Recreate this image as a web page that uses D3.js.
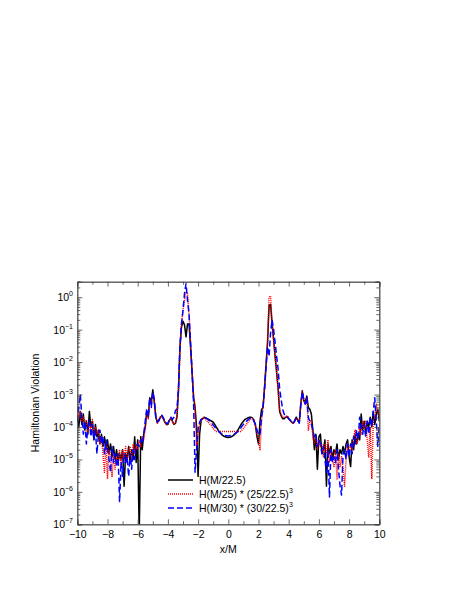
<!DOCTYPE html>
<html><head><meta charset="utf-8">
<script src="https://cdn.jsdelivr.net/npm/d3@7"></script>
<style>
body{margin:0;background:#fff}
text{font-family:"Liberation Sans",Arial,Helvetica,sans-serif;fill:#000}
</style>
</head><body>
<svg id="chart" width="457" height="591"></svg>
<script>
// sample positions x/M (step 0.1 from -10 to 10)
const xValues = d3.range(-100, 101).map(i => i / 10);

// H(M/22.5)
const blackH = [
2e-4,1e-4,3e-4,1.2e-4,2.5e-4,8e-5,1.5e-4,6e-5,3e-4,1e-4,
1.5e-4,4e-5,1.2e-4,5e-5,8e-5,3e-5,6e-5,2.5e-5,5e-5,2e-5,
4e-5,1.5e-5,3e-5,1.2e-5,2.5e-5,1e-5,2e-5,8e-6,1.5e-5,1e-5,
2e-5,1.5e-6,1.5e-5,1e-5,2.5e-5,8e-6,2e-5,1e-5,5e-5,8e-6,
4e-5,5e-8,5e-5,2e-5,6e-5,1e-4,3e-4,2e-4,8e-4,6e-4,
1.4e-3,6e-4,2e-4,1.4e-4,1.6e-4,2e-4,2.2e-4,1.8e-4,1.4e-4,1.2e-4,
1.2e-4,1.6e-4,1.9e-4,1.5e-4,1.2e-4,1.3e-4,2e-4,1.3e-3,3e-2,1.2e-1,
1.8e-1,1.4e-1,6e-2,1.5e-1,1.5e-1,3e-2,5e-3,8e-4,4e-4,1e-4,
3e-6,6e-5,1.6e-4,1.8e-4,2e-4,1.9e-4,1.8e-4,1.7e-4,1.6e-4,1.5e-4,
1.4e-4,1.2e-4,1e-4,8.5e-5,7e-5,6.3e-5,5.6e-5,5.2e-5,5e-5,4.8e-5,
4.7e-5,
4.8e-5,5e-5,5.3e-5,5.8e-5,6.5e-5,7.5e-5,9e-5,1.1e-4,1.3e-4,1.5e-4,
1.7e-4,1.8e-4,1.9e-4,2e-4,2e-4,1.9e-4,1.6e-4,1.1e-4,5e-5,3e-5,
1.5e-4,3.4e-4,4e-4,1.6e-3,8e-3,4e-2,5.5e-1,6e-1,1.5e-1,5e-2,
1.5e-2,5e-3,1.5e-3,3e-4,2.2e-4,1.8e-4,1.8e-4,2e-4,2.1e-4,1.8e-4,
1.6e-4,1.4e-4,1.3e-4,1.6e-4,2e-4,1.6e-4,1.4e-4,5e-4,1.3e-3,6.5e-4,
6e-4,9e-4,4e-4,3.5e-4,2.5e-4,8e-5,2e-5,6e-5,5e-6,5e-5,
6e-5,1.5e-5,2e-5,4e-5,1.5e-6,3e-5,1.5e-5,2.5e-5,1e-5,2e-5,
1.5e-5,3e-5,1e-5,2e-5,1.5e-5,2.5e-5,1.5e-5,3e-5,4e-5,1.2e-5,
6e-6,4e-5,2e-5,6e-5,3e-5,6e-5,4e-5,2.5e-4,8e-5,1.5e-4,
6e-5,1.5e-4,1e-4,2e-4,1e-4,3e-4,1.2e-4,2.5e-4,3.5e-4,1.5e-4
];

// H(M/25) * (25/22.5)^3
const redH = [
4e-4,2e-4,3e-4,1.5e-4,2e-4,1e-4,1.7e-4,7e-5,1.2e-4,8e-5,
1.7e-4,5e-5,1e-4,6e-5,8e-5,3e-5,5e-5,1.5e-5,4e-6,3e-5,
2.5e-6,2e-5,1.2e-5,3e-6,1.5e-5,5e-6,1.2e-5,8e-6,2e-5,6e-6,
2e-5,1e-5,2.5e-5,8e-6,2e-5,2.5e-5,1e-5,3e-5,1.5e-5,3e-5,
2e-5,4e-5,2.5e-5,5e-5,4e-5,9e-5,2.5e-4,1.8e-4,6e-4,5e-4,
1.1e-3,6e-4,2.2e-4,1.3e-4,1.5e-4,2e-4,2.1e-4,1.8e-4,1.4e-4,1.2e-4,
1.2e-4,1.6e-4,1.9e-4,1.5e-4,1.2e-4,1.3e-4,2.2e-4,1.3e-3,3e-2,1.5e-1,
4e-1,8e-1,1.4,1.3,3e-1,4e-2,5e-3,1e-3,4e-4,2.5e-5,
5e-5,1.2e-4,1.7e-4,1.9e-4,2e-4,1.7e-4,1.5e-4,1.35e-4,1.2e-4,1.05e-4,
9e-5,8e-5,7.2e-5,7.2e-5,7.2e-5,7.2e-5,7.2e-5,7.2e-5,7.2e-5,7.2e-5,
7.2e-5,
7.2e-5,7.2e-5,7.2e-5,7.2e-5,7.2e-5,7.2e-5,7.2e-5,7.2e-5,8e-5,9e-5,
1.05e-4,1.2e-4,1.4e-4,1.6e-4,1.8e-4,1.8e-4,1.6e-4,1.1e-4,6e-5,4e-5,
2e-5,1.5e-4,4e-4,1.8e-3,9e-3,4.5e-2,1.0,1.1,1.6e-1,5e-2,
1.5e-2,5e-3,1.5e-3,3.5e-4,2.5e-4,2e-4,1.9e-4,2.1e-4,2.2e-4,1.9e-4,
1.6e-4,1.4e-4,1.3e-4,1.5e-4,1.9e-4,1.6e-4,1.3e-4,4.5e-4,1.2e-3,6e-4,
5e-4,8e-4,8e-5,1.5e-4,1.6e-4,5e-5,3e-5,5e-5,2e-5,4e-5,
2.5e-5,3e-5,1.2e-5,3e-5,1.5e-5,4e-5,8e-6,2e-5,1e-5,6e-6,
2e-5,2.5e-6,1.5e-5,6e-6,1.2e-5,5e-6,1.5e-6,1e-5,3e-5,1.5e-5,
3e-5,2e-5,5e-5,8e-5,3e-5,4e-5,1e-4,6e-5,1.5e-4,9e-5,
1.5e-4,4e-5,1.2e-5,1e-4,2.5e-6,1.5e-4,2e-4,5e-4,3e-4,2e-4
];

// H(M/30) * (30/22.5)^3
const blueH = [
1.5e-4,4e-4,1e-3,2e-4,6e-5,1.5e-4,3e-5,1e-4,1.6e-4,5e-5,
1.2e-4,4e-5,8e-5,1.5e-5,6e-5,8e-5,3e-5,5e-5,1.5e-5,4e-5,
2e-5,1e-5,4e-6,2.5e-5,8e-6,1.5e-5,6e-6,1.5e-5,5e-7,8e-6,
3e-6,1.5e-5,8e-6,1.2e-5,3e-6,1.5e-5,5e-6,2e-5,1e-5,2.5e-5,
3e-5,2.5e-5,4e-5,3e-5,6e-5,1.5e-4,3.7e-4,2e-4,8e-4,4e-4,
1.2e-3,7e-4,2e-4,1.4e-4,1.6e-4,2e-4,2.3e-4,1.9e-4,1.5e-4,1.3e-4,
1.3e-4,1.7e-4,2e-4,1.7e-4,2e-4,3.2e-4,3.6e-4,1.5e-3,3e-2,1.5e-1,
4e-1,1.3,2.6,8e-1,3e-1,4e-2,5e-3,6e-4,4e-6,2e-5,
9e-5,1.4e-4,1.7e-4,1.8e-4,1.9e-4,1.9e-4,1.8e-4,1.6e-4,1.45e-4,1.3e-4,
1.15e-4,1e-4,9e-5,8e-5,7e-5,6.4e-5,6e-5,5.7e-5,5.5e-5,5.4e-5,
5.3e-5,
5.4e-5,5.5e-5,5.7e-5,6e-5,6.4e-5,7e-5,8e-5,9e-5,1.05e-4,1.2e-4,
1.35e-4,1.5e-4,1.65e-4,1.8e-4,1.9e-4,1.8e-4,1.5e-4,1.2e-4,8e-5,6e-5,
5.6e-5,2e-4,4e-4,1.5e-3,7e-3,3e-2,1.5e-2,8e-2,2e-1,1e-1,
4e-2,1.5e-2,6e-3,1.5e-3,7e-4,3.5e-4,2.5e-4,2.2e-4,2e-4,1.8e-4,
1.6e-4,1.4e-4,1.3e-4,1.5e-4,1.9e-4,1.6e-4,1.3e-4,5e-4,1.2e-3,7e-4,
5e-4,8e-4,2e-4,1.5e-4,1.2e-4,8e-5,5e-5,6e-5,2.5e-5,4e-5,
3e-5,1.5e-5,2.5e-5,1e-5,4e-6,2e-5,7e-7,2e-5,8e-6,1.2e-5,
8e-6,2e-5,5e-6,1.5e-6,8e-7,1.5e-5,2e-5,1e-5,3e-5,1.2e-5,
3e-5,1.5e-5,5e-5,3e-5,8e-5,4e-5,2e-4,1e-4,6e-5,1.2e-4,
5e-5,1.5e-4,6e-5,2e-4,1e-4,3e-4,8e-4,1.5e-4,2.5e-5,1.2e-4
];

const xTickLabels = [-10, -8, -6, -4, -2, 0, 2, 4, 6, 8, 10];
const yTickExponents = [0, -1, -2, -3, -4, -5, -6, -7];
const legendMain = ["H(M/22.5)", "H(M/25) * (25/22.5)", "H(M/30) * (30/22.5)"];
const legendSup = ["", "3", "3"];
const xTitle = "x/M";
const yTitle = "Hamiltonian Violation";

const seriesData = [blackH, redH, blueH];
const seriesStyle = [
  {color: "#000000", width: 1.5, dash: null},
  {color: "#ff0000", width: 1.5, dash: "1,1"},
  {color: "#0000ff", width: 1.5, dash: "6,3"}
];

const L = 77.3, R = 379.3, T = 281.7, B = 524.3;
const svg = d3.select("#chart");
const x = d3.scaleLinear().domain([-10, 10]).range([L, R]);
const y = d3.scaleLog().domain([1e-7, 3]).range([B, T]);

svg.append("defs").append("clipPath").attr("id", "clip")
  .append("rect").attr("x", L).attr("y", T).attr("width", R - L).attr("height", B - T);

const line = d3.line().x((d, i) => x(xValues[i])).y(d => y(d));
const plot = svg.append("g").attr("clip-path", "url(#clip)");
seriesData.forEach((s, k) => {
  const st = seriesStyle[k];
  plot.append("path").datum(s).attr("d", line)
    .attr("fill", "none").attr("stroke", st.color)
    .attr("stroke-width", st.width)
    .attr("stroke-linejoin", "round")
    .attr("stroke-dasharray", st.dash);
});

// frame and ticks
const axisColor = "#444";
const minorX = d3.range(-10, 11, 1);
const axB = d3.axisBottom(x).tickValues(xTickLabels).tickSize(-5).tickPadding(6)
  .tickFormat(d3.format("d"));
const gB = svg.append("g").attr("transform", `translate(0,${B})`).call(axB);
const gT = svg.append("g").attr("transform", `translate(0,${T})`)
  .call(d3.axisTop(x).tickValues(xTickLabels).tickSize(-5).tickFormat(""));
const gBm = svg.append("g").attr("transform", `translate(0,${B})`)
  .call(d3.axisBottom(x).tickValues(minorX.filter(v => v % 2 !== 0)).tickSize(-3).tickFormat(""));
const gTm = svg.append("g").attr("transform", `translate(0,${T})`)
  .call(d3.axisTop(x).tickValues(minorX.filter(v => v % 2 !== 0)).tickSize(-3).tickFormat(""));

const majorY = yTickExponents.map(e => Math.pow(10, e));
const minorY = y.ticks().filter(v => !majorY.some(m => Math.abs(m - v) / m < 1e-6));
const gL = svg.append("g").attr("transform", `translate(${L},0)`)
  .call(d3.axisLeft(y).tickValues(majorY).tickSize(-5).tickFormat(""));
const gR = svg.append("g").attr("transform", `translate(${R},0)`)
  .call(d3.axisRight(y).tickValues(majorY).tickSize(-5).tickFormat(""));
const gLm = svg.append("g").attr("transform", `translate(${L},0)`)
  .call(d3.axisLeft(y).tickValues(minorY).tickSize(-3).tickFormat(""));
const gRm = svg.append("g").attr("transform", `translate(${R},0)`)
  .call(d3.axisRight(y).tickValues(minorY).tickSize(-3).tickFormat(""));

[gB, gT, gBm, gTm, gL, gR, gLm, gRm].forEach(g => {
  g.selectAll(".domain").attr("stroke", axisColor).attr("stroke-width", 0.8);
  g.selectAll(".tick line").attr("stroke", axisColor).attr("stroke-width", 0.8);
});
gB.selectAll(".tick text").attr("font-size", "10.5px").attr("fill", "#000")
  .attr("font-family", '"Liberation Sans",Arial,sans-serif');

// y tick labels with superscripts
const yl = svg.append("g");
yTickExponents.forEach(e => {
  const t = yl.append("text").attr("x", 73).attr("y", y(Math.pow(10, e)) + 4)
    .attr("text-anchor", "end").attr("font-size", "10.5px");
  t.append("tspan").text("10");
  t.append("tspan").attr("dy", -5).attr("font-size", "7px")
    .text(e === 0 ? "0" : "\u2212" + Math.abs(e));
});

// axis titles
svg.append("text").attr("x", (L + R) / 2).attr("y", 553).attr("text-anchor", "middle")
  .attr("font-size", "10.5px").text(xTitle);
svg.append("text").attr("transform", `translate(39,${(T + B) / 2}) rotate(-90)`)
  .attr("text-anchor", "middle").attr("font-size", "10.5px").text(yTitle);

// legend
const legY = [480, 494, 508];
legendMain.forEach((lab, k) => {
  const st = seriesStyle[k];
  svg.append("line").attr("x1", 168).attr("x2", 193).attr("y1", legY[k]).attr("y2", legY[k])
    .attr("stroke", st.color).attr("stroke-width", st.width).attr("stroke-dasharray", st.dash);
  const t = svg.append("text").attr("x", 199).attr("y", legY[k] + 4).attr("font-size", "10.5px");
  t.append("tspan").text(lab);
  if (legendSup[k]) t.append("tspan").attr("dy", -5).attr("font-size", "7px").text(legendSup[k]);
});
</script>
</body></html>
